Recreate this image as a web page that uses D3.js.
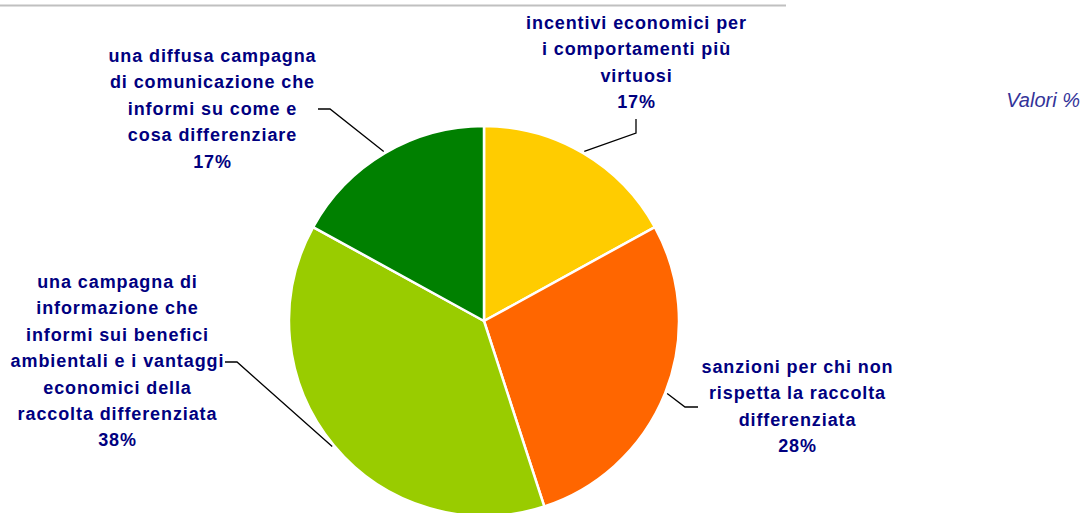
<!DOCTYPE html>
<html>
<head>
<meta charset="utf-8">
<script src="https://cdn.jsdelivr.net/npm/d3@7"></script>
<style>
  html, body { margin: 0; padding: 0; background: #fff; }
  svg { display: block; }
  .lbl { font-family: "Liberation Sans", Arial, sans-serif; font-weight: bold; font-size: 18px; letter-spacing: 0.9px; fill: #000080; }
</style>
</head>
<body>
<svg id="chart" width="1086" height="513"></svg>
<script>
// dati
const categories = [
  "incentivi economici per i comportamenti più virtuosi",
  "sanzioni per chi non rispetta la raccolta differenziata",
  "una campagna di informazione che informi sui benefici ambientali e i vantaggi economici della raccolta differenziata",
  "una diffusa campagna di comunicazione che informi su come e cosa differenziare"
];
const values = [17, 28, 38, 17];
const labelLines = [
  ["incentivi economici per", "i comportamenti più", "virtuosi"],
  ["sanzioni per chi non", "rispetta la raccolta", "differenziata"],
  ["una campagna di", "informazione che", "informi sui benefici", "ambientali e i vantaggi", "economici della", "raccolta differenziata"],
  ["una diffusa campagna", "di comunicazione che", "informi su come e", "cosa differenziare"]
];
const colors = ["#FFCC00", "#FF6600", "#99CC00", "#008000"];

// layout etichette (centro testo, prima baseline, gomito linea)
const labelPos = [
  { x: 636, y: 29, elbow: [[636, 133], [636, 119]] },
  { x: 797, y: 373, elbow: [[685, 407], [698, 407]] },
  { x: 117, y: 288, elbow: [[237, 362], [225, 362]] },
  { x: 212, y: 62, elbow: [[330, 109], [318, 109]] }
];

const svg = d3.select("#chart");
const cx = 484, cy = 321, radius = 195;
const lineH = 26.4;

// linea grigia in alto
svg.append("line")
  .attr("x1", 0).attr("x2", 786)
  .attr("y1", 5.5).attr("y2", 5.5)
  .attr("stroke", "#c0c0c0").attr("stroke-width", 2);

const pie = d3.pie().sort(null).value((d) => d);
const arcs = pie(values);
const arc = d3.arc().innerRadius(0).outerRadius(radius);
const leaderArc = d3.arc().innerRadius(197).outerRadius(197);

const g = svg.append("g").attr("transform", `translate(${cx},${cy})`);

g.selectAll("path")
  .data(arcs)
  .join("path")
  .attr("d", arc)
  .attr("fill", (d, i) => colors[i])
  .attr("stroke", "#fff")
  .attr("stroke-width", 2.5)
  .attr("stroke-linejoin", "round");

// linee guida
arcs.forEach((d, i) => {
  const c = leaderArc.centroid(d);
  const pts = [[c[0] + cx, c[1] + cy]].concat(labelPos[i].elbow);
  svg.append("path")
    .attr("d", d3.line()(pts))
    .attr("fill", "none")
    .attr("stroke", "#000")
    .attr("stroke-width", 1.3);
});

// etichette
labelLines.forEach((lines, i) => {
  const p = labelPos[i];
  const t = svg.append("text")
    .attr("class", "lbl")
    .attr("text-anchor", "middle");
  lines.concat([values[i] + "%"]).forEach((ln, k) => {
    t.append("tspan")
      .attr("x", p.x + 0.5)
      .attr("y", p.y + k * lineH)
      .text(ln);
  });
});

svg.append("text")
  .attr("x", 1080).attr("y", 107)
  .attr("text-anchor", "end")
  .attr("font-family", "Liberation Sans, Arial, sans-serif")
  .attr("font-style", "italic")
  .attr("font-size", 20)
  .attr("fill", "#333399")
  .text("Valori %");
</script>
</body>
</html>
